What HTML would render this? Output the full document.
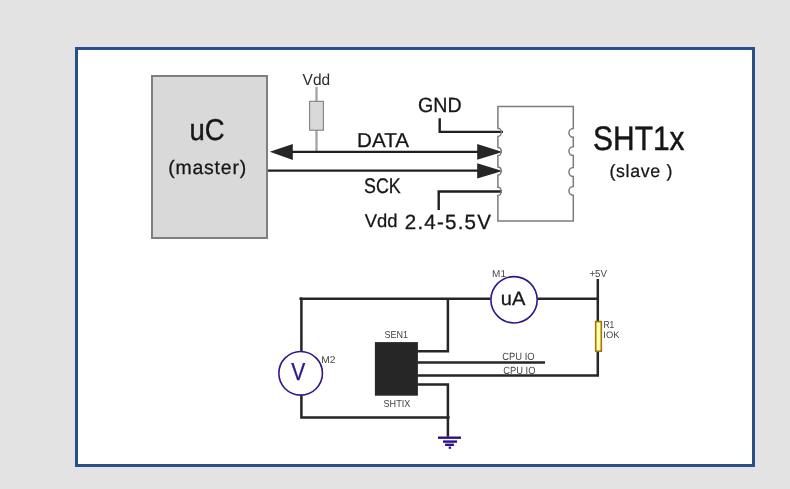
<!DOCTYPE html>
<html lang="en">
<head>
<meta charset="utf-8">
<title>SHT1x wiring diagram</title>
<style>
  html, body { margin: 0; padding: 0; background: #e3e3e3; }
  body { width: 790px; height: 489px; overflow: hidden; position: relative; }
  svg { position: absolute; left: 0; top: 0; display: block; will-change: transform; }
  text { font-family: "Liberation Sans", sans-serif; fill: #161616; stroke: #161616; text-rendering: geometricPrecision; }
  .w { stroke: #262626; stroke-width: 2.5; fill: none; }
  .b { stroke: #1f1f1f; stroke-width: 2.4; fill: none; }
  .s { fill: #444444; stroke: #444444; }
  .m { fill: #2a2a2a; stroke: #2a2a2a; }
  .p { fill: #34158c; stroke: #34158c; }
</style>
</head>
<body>
<svg width="790" height="489" viewBox="0 0 790 489">
  <!-- page + frame -->
  <rect x="0" y="0" width="790" height="489" fill="#e3e3e3"/>
  <rect x="76.5" y="48.5" width="677" height="417" fill="#ffffff" stroke="#27508b" stroke-width="3"/>

  <!-- microcontroller block -->
  <rect x="152" y="76" width="115" height="162" fill="#d9d9d9" stroke="#7f7f7f" stroke-width="2"/>
  <text x="189.45" y="139.75" font-size="30.28" textLength="35.13" lengthAdjust="spacingAndGlyphs" stroke-width="0.42" xml:space="preserve">uC</text>
  <text x="168.23" y="174.01" font-size="19.47" letter-spacing="0.787" stroke-width="0.27" xml:space="preserve">(master)</text>

  <!-- pull-up resistor -->
  <text x="302.62" y="84.59" font-size="15.85" textLength="27.57" lengthAdjust="spacingAndGlyphs" stroke-width="0.0" class="m" xml:space="preserve">Vdd</text>
  <line x1="316.5" y1="87" x2="316.5" y2="151.4" stroke="#a3a3a3" stroke-width="2.3"/>
  <rect x="309.6" y="101.3" width="13.8" height="28.9" fill="#d9d9d9" stroke="#808080" stroke-width="1.1"/>

  <!-- DATA / SCK buses -->
  <line x1="290" y1="151.85" x2="480" y2="151.85" class="b"/>
  <polygon points="269.8,151.8 292.8,144 292.8,159.9" fill="#262626"/>
  <polygon points="502.4,151.9 477.2,144.1 477.2,159.8" fill="#262626"/>
  <line x1="268" y1="170.65" x2="480" y2="170.65" class="b"/>
  <polygon points="502.4,170.9 477.2,163.2 477.2,178.6" fill="#262626"/>
  <text x="357.05" y="146.9" font-size="20.0" textLength="52.02" lengthAdjust="spacingAndGlyphs" stroke-width="0.28" xml:space="preserve">DATA</text>
  <text x="364.09" y="193.18" font-size="21.11" textLength="36.63" lengthAdjust="spacingAndGlyphs" stroke-width="0.3" xml:space="preserve">SCK</text>

  <!-- GND / Vdd supply pins -->
  <text x="418.12" y="111.99" font-size="20.56" textLength="43.61" lengthAdjust="spacingAndGlyphs" stroke-width="0.29" xml:space="preserve">GND</text>
  <polyline points="439.7,118.2 439.7,131.9 502.9,131.9" class="b"/>
  <polyline points="438.7,209.9 438.7,191.5 501.9,191.5" class="b"/>
  <text x="364.69" y="227.02" font-size="18.52" textLength="32.81" lengthAdjust="spacingAndGlyphs" stroke-width="0.26" xml:space="preserve">Vdd</text>
  <text x="404.77" y="229.09" font-size="20.56" letter-spacing="1.217" stroke-width="0.29" xml:space="preserve">2.4-5.5V</text>

  <!-- sensor outline -->
  <path d="M497.9 106.5 H573.3 V128.4 A4.4 4.4 0 0 0 573.3 137.2 V146.7 A4.4 4.4 0 0 0 573.3 155.5 V167.6 A4.4 4.4 0 0 0 573.3 176.4 V186.4 A4.4 4.4 0 0 0 573.3 195.2 V220.9 H497.9 V195.4 A3.4 4.1 0 0 0 497.9 187.2 V175.1 A3.4 4.1 0 0 0 497.9 166.9 V155.6 A3.4 4.1 0 0 0 497.9 147.4 V136.4 A3.4 4.1 0 0 0 497.9 128.2 Z" fill="none" stroke="#7c7c7c" stroke-width="1.5"/>
  <text x="593.1" y="149.59" font-size="33.89" textLength="91.43" lengthAdjust="spacingAndGlyphs" stroke-width="0.47" xml:space="preserve">SHT1x</text>
  <text x="609.52" y="176.6" font-size="17.77" letter-spacing="0.654" stroke-width="0.25" xml:space="preserve">(slave )</text>

  <!-- measurement circuit -->
  <polyline points="301.4,352 301.4,298.65 490.5,298.65" class="w"/>
  <line x1="299.4" y1="298.65" x2="302" y2="298.65" class="w"/>
  <line x1="537.5" y1="298.65" x2="597.8" y2="298.65" class="w"/>
  <polyline points="301.4,395 301.4,417.6 449.6,417.6" class="w"/>
  <polyline points="417.5,351.3 447.9,351.3 447.9,298.65" class="w"/>
  <line x1="417.5" y1="362.5" x2="545" y2="362.5" class="w"/>
  <polyline points="417.5,375.6 597.8,375.6 597.8,351.5" class="w"/>
  <polyline points="417.5,384.4 447.9,384.4 447.9,436.8" class="w"/>
  <line x1="597.8" y1="279" x2="597.8" y2="321.5" class="w"/>

  <rect x="374.9" y="342.1" width="43" height="53.6" fill="#262626"/>
  <text x="384.59" y="338.3" font-size="10.07" textLength="23.53" lengthAdjust="spacingAndGlyphs" stroke-width="0.0" class="s" xml:space="preserve">SEN1</text>
  <text x="383.49" y="407.3" font-size="10.14" textLength="26.84" lengthAdjust="spacingAndGlyphs" stroke-width="0.0" class="s" xml:space="preserve">SHTIX</text>

  <circle cx="300.65" cy="373.3" r="21.8" fill="#ffffff" stroke="#34158c" stroke-width="1.6"/>
  <text x="291.21" y="379.78" font-size="24.57" textLength="14.03" lengthAdjust="spacingAndGlyphs" stroke-width="0.34" class="p" xml:space="preserve">V</text>
  <text x="321.28" y="363.1" font-size="9.86" textLength="14.22" lengthAdjust="spacingAndGlyphs" stroke-width="0.0" class="s" xml:space="preserve">M2</text>

  <circle cx="514.05" cy="299.8" r="23.15" fill="#ffffff" stroke="#34158c" stroke-width="1.6"/>
  <text x="500.89" y="305.11" font-size="19.3" textLength="24.57" lengthAdjust="spacingAndGlyphs" stroke-width="0.27" xml:space="preserve">uA</text>
  <text x="492.1" y="276.9" font-size="9.93" textLength="13.89" lengthAdjust="spacingAndGlyphs" stroke-width="0.0" class="s" xml:space="preserve">M1</text>

  <text x="589.42" y="277.1" font-size="10.22" textLength="17.45" lengthAdjust="spacingAndGlyphs" stroke-width="0.0" class="s" xml:space="preserve">+5V</text>
  <rect x="595.7" y="321.6" width="5.6" height="29.6" fill="#ffffa6" stroke="#a2740f" stroke-width="1.6"/>
  <text x="603.53" y="328.2" font-size="10.07" textLength="10.78" lengthAdjust="spacingAndGlyphs" stroke-width="0.0" class="s" xml:space="preserve">R1</text>
  <text x="603.36" y="338.11" font-size="9.44" textLength="16.16" lengthAdjust="spacingAndGlyphs" stroke-width="0.0" class="s" xml:space="preserve">IOK</text>
  <text x="502.33" y="360.1" font-size="10.42" textLength="32.34" lengthAdjust="spacingAndGlyphs" stroke-width="0.0" class="s" xml:space="preserve">CPU IO</text>
  <text x="503.33" y="374.1" font-size="10.42" textLength="32.13" lengthAdjust="spacingAndGlyphs" stroke-width="0.0" class="s" xml:space="preserve">CPU IO</text>

  <!-- ground symbol -->
  <g stroke="#2e118a" stroke-width="2.4">
    <line x1="438" y1="437.7" x2="461" y2="437.7"/>
    <line x1="443" y1="441.6" x2="457" y2="441.6"/>
    <line x1="445.1" y1="444.8" x2="453.9" y2="444.8"/>
    <line x1="448.7" y1="447.7" x2="451" y2="447.7" stroke-width="2.2"/>
  </g>
</svg>
</body>
</html>
